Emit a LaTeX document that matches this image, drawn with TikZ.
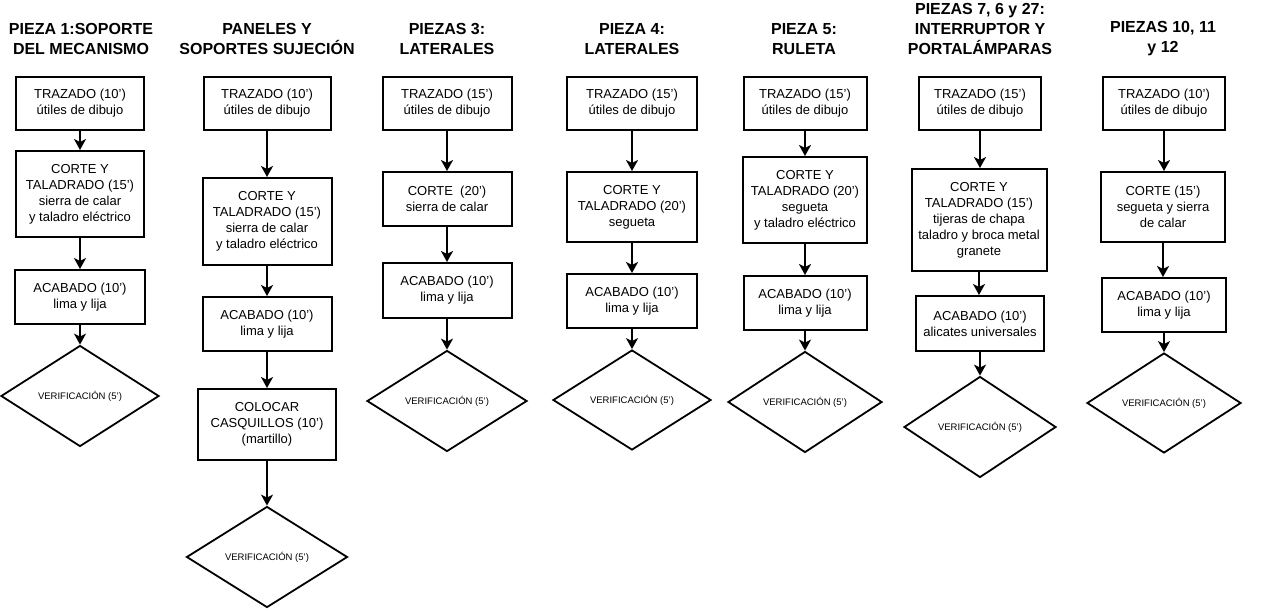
\documentclass[tikz,border=0pt]{standalone}
\usepackage{fontspec}
\setmainfont{Liberation Sans}
\usetikzlibrary{shapes.geometric,arrows.meta}
\tikzset{
  box/.style={draw,line width=2pt,rectangle,inner sep=0pt,align=center,
    font=\fontsize{13}{16}\selectfont},
  verif/.style={draw,line width=1.8pt,diamond,inner sep=0pt,
    font=\fontsize{9.5}{11}\selectfont},
  ttl/.style={align=center,font=\bfseries\fontsize{16}{20}\selectfont,inner sep=0pt},
  arr/.style={line width=2pt,-{Stealth[length=11pt,width=12pt,inset=3pt]}}
}
\newcommand{\bx}[5]{\node[box,minimum width=#3pt,minimum height=#4pt] (#1) at #2 {#5};}
\newcommand{\vd}[4]{\node[verif,minimum width=#3pt,minimum height=#4pt] (#1) at #2 {VERIFICACIÓN (5')};}
\begin{document}
\begin{tikzpicture}[x=1pt,y=-1pt]
\useasboundingbox (0,0) rectangle (1267,611);
% titles
\node[ttl] (t1) at (81,39) {PIEZA 1:SOPORTE\\DEL MECANISMO};
\node[ttl] (t2) at (267,39) {PANELES Y\\SOPORTES SUJECIÓN};
\node[ttl] (t3) at (447,39) {PIEZAS 3:\\LATERALES};
\node[ttl] (t4) at (632,39) {PIEZA 4:\\LATERALES};
\node[ttl] (t5) at (804,39) {PIEZA 5:\\RULETA};
\node[ttl] (t6) at (980,29) {PIEZAS 7, 6 y 27:\\INTERRUPTOR Y\\PORTALÁMPARAS};
\node[ttl] (t7) at (1163,39) {PIEZAS 10, 11\\y 12};
% column 1
\bx{a1}{(80,103.5)}{128}{53}{TRAZADO (10')\\útiles de dibujo}
\bx{a2}{(80,194)}{128}{86}{CORTE Y\\TALADRADO (15')\\sierra de calar\\y taladro eléctrico}
\bx{a3}{(80,297)}{130}{54}{ACABADO (10')\\lima y lija}
\vd{ad}{(80,396)}{158}{101}
% column 2
\bx{b1}{(267,103.5)}{127}{53}{TRAZADO (10')\\útiles de dibujo}
\bx{b2}{(267,221.5)}{129}{87}{CORTE Y\\TALADRADO (15')\\sierra de calar\\y taladro eléctrico}
\bx{b3}{(267,324)}{129}{54}{ACABADO (10')\\lima y lija}
\bx{b4}{(267,424.5)}{138}{71}{COLOCAR\\CASQUILLOS (10')\\(martillo)}
\vd{bd}{(267,557)}{161}{101}
% column 3
\bx{c1}{(447,103.5)}{129}{53}{TRAZADO (15')\\útiles de dibujo}
\bx{c2}{(447,199)}{129}{54}{CORTE \ (20')\\sierra de calar}
\bx{c3}{(447,290.5)}{129}{55}{ACABADO (10')\\lima y lija}
\vd{cd}{(447,401)}{160}{101}
% column 4
\bx{d1}{(632,103.5)}{130}{53}{TRAZADO (15')\\útiles de dibujo}
\bx{d2}{(632,207)}{130}{70}{CORTE Y\\TALADRADO (20')\\segueta}
\bx{d3}{(632,301)}{130}{54}{ACABADO (10')\\lima y lija}
\vd{dd}{(632,400)}{158}{100}
% column 5
\bx{e1}{(805,103.5)}{123}{53}{TRAZADO (15')\\útiles de dibujo}
\bx{e2}{(805,200)}{124}{86}{CORTE Y\\TALADRADO (20')\\segueta\\y taladro eléctrico}
\bx{e3}{(805,303)}{123}{54}{ACABADO (10')\\lima y lija}
\vd{ed}{(805,402)}{154}{101}
% column 6
\bx{f1}{(980,103.5)}{122}{53}{TRAZADO (15')\\útiles de dibujo}
\bx{f2}{(979,220)}{135}{102}{CORTE Y\\TALADRADO (15')\\tijeras de chapa\\taladro y broca metal\\granete}
\bx{f3}{(980,323.5)}{128}{55}{ACABADO (10')\\alicates universales}
\vd{fd}{(980,427)}{152}{101}
% column 7
\bx{g1}{(1164,103.5)}{122}{53}{TRAZADO (10')\\útiles de dibujo}
\bx{g2}{(1163,207)}{124}{70}{CORTE (15')\\segueta y sierra\\de calar}
\bx{g3}{(1164,305)}{124}{54}{ACABADO (10')\\lima y lija}
\vd{gd}{(1164,403)}{154}{100}
% arrows
\foreach \p/\q in {a1/a2,a2/a3,b1/b2,b2/b3,b3/b4,c1/c2,c2/c3,d1/d2,d2/d3,e1/e2,e2/e3,f1/f2,f2/f3,g1/g2,g2/g3}
  \draw[arr] (\p.south) -- (\p.south |- \q.north);
\foreach \p/\q in {a3/ad,b4/bd,c3/cd,d3/dd,e3/ed,f3/fd,g3/gd}
  \draw[arr] (\p.south) -- (\p.south |- \q.north);
\end{tikzpicture}
\end{document}
